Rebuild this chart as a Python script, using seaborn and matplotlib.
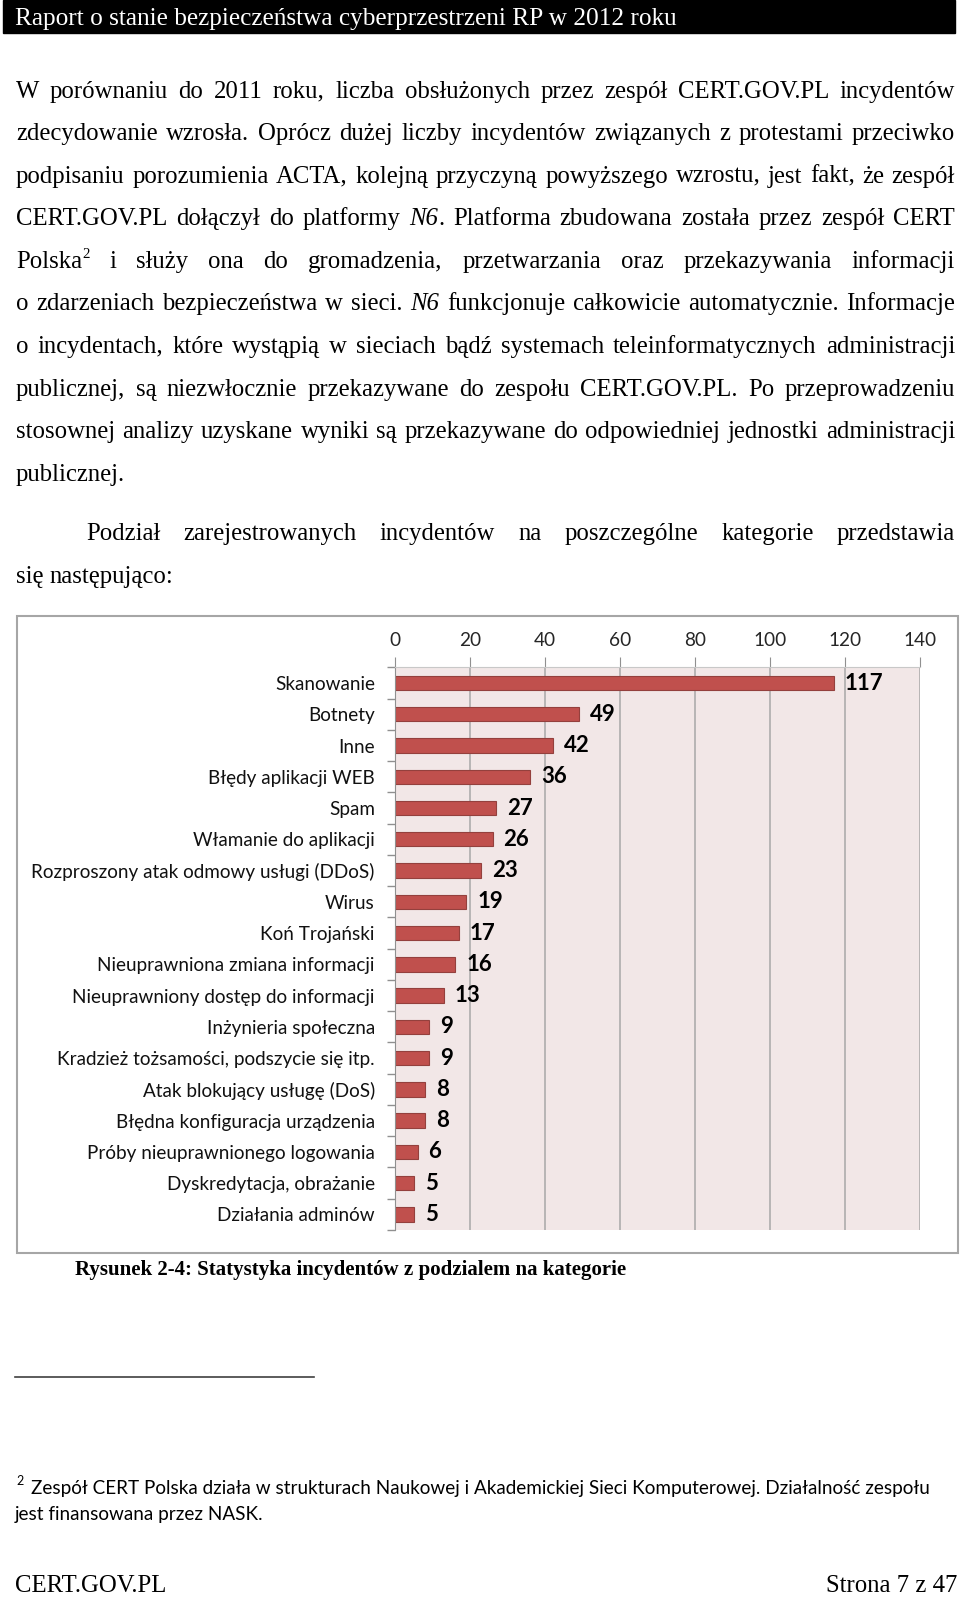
import re
import matplotlib
matplotlib.use("Agg")
import matplotlib.pyplot as plt
from matplotlib.patches import Rectangle
import numpy as np
import seaborn as sns

# chart data
categories = ["Skanowanie", "Botnety", "Inne", "Błędy aplikacji WEB", "Spam",
              "Włamanie do aplikacji", "Rozproszony atak odmowy usługi (DDoS)",
              "Wirus", "Koń Trojański", "Nieuprawniona zmiana informacji",
              "Nieuprawniony dostęp do informacji", "Inżynieria społeczna",
              "Kradzież tożsamości, podszycie się itp.", "Atak blokujący usługę (DoS)",
              "Błędna konfiguracja urządzenia", "Próby nieuprawnionego logowania",
              "Dyskredytacja, obrażanie", "Działania adminów"]
counts = [117, 49, 42, 36, 27, 26, 23, 19, 17, 16, 13, 9, 9, 8, 8, 6, 5, 5]
xticks = [0, 20, 40, 60, 80, 100, 120, 140]

header = "Raport o stanie bezpieczeństwa cyberprzestrzeni RP w 2012 roku"
para1 = [
    "W porównaniu do 2011 roku, liczba obsłużonych przez zespół CERT.GOV.PL incydentów",
    "zdecydowanie wzrosła. Oprócz dużej liczby incydentów związanych z protestami przeciwko",
    "podpisaniu porozumienia ACTA, kolejną przyczyną powyższego wzrostu, jest fakt, że zespół",
    "CERT.GOV.PL dołączył do platformy *N6*. Platforma zbudowana została przez zespół CERT",
    "Polska^2 i służy ona do gromadzenia, przetwarzania oraz przekazywania informacji",
    "o zdarzeniach bezpieczeństwa w sieci. *N6* funkcjonuje całkowicie automatycznie. Informacje",
    "o incydentach, które wystąpią w sieciach bądź systemach teleinformatycznych administracji",
    "publicznej, są niezwłocznie przekazywane do zespołu CERT.GOV.PL. Po przeprowadzeniu",
    "stosownej analizy uzyskane wyniki są przekazywane do odpowiedniej jednostki administracji",
    "publicznej.",
]
para2 = ["Podział zarejestrowanych incydentów na poszczególne kategorie przedstawia",
         "się następująco:"]
caption = "Rysunek 2-4: Statystyka incydentów z podzialem na kategorie"
footnote = ["Zespół CERT Polska działa w strukturach Naukowej i Akademickiej Sieci Komputerowej. Działalność zespołu",
            "jest finansowana przez NASK."]

SERIF = "Liberation Serif"
SANS = "Lato"
BODY = 17.8

fig = plt.figure(figsize=(9.6, 15.97), dpi=100)
page = fig.add_axes([0, 0, 1, 1])
page.set_xlim(0, 960)
page.set_ylim(1597, 0)
page.axis("off")
rend = fig.canvas.get_renderer()


def put_line(line, x0, x1, y, justify=True, size=BODY):
    words = []
    for w in line.split():
        arts = []
        off = 0
        for part in re.findall(r"\*[^*]+\*|\^\d+|[^*^]+", w):
            style, fs, dy = "normal", size, 0
            if part.startswith("*"):
                part, style = part[1:-1], "italic"
            elif part.startswith("^"):
                part, fs, dy = part[1:], size * 0.6, -10
            t = page.text(0, y + dy, part, fontsize=fs, fontstyle=style,
                          family=SERIF, va="baseline", ha="left", color="black")
            arts.append((t, off))
            off += t.get_window_extent(renderer=rend).width
        words.append((arts, off))
    total = sum(w for _, w in words)
    gap = size / 0.72 * 0.25
    if justify and len(words) > 1:
        gap = max((x1 - x0 - total) / (len(words) - 1), 2)
    x = x0
    for arts, w in words:
        for t, off in arts:
            t.set_x(x + off)
        x += w + gap


# header bar
page.add_patch(Rectangle((3, 0), 952, 33, color="black"))
page.text(15, 24.5, header, color="white", family=SERIF, fontsize=18.2, va="baseline")

for i, line in enumerate(para1):
    put_line(line, 16, 955, 97.7 + 42.55 * i, justify=(i < len(para1) - 1))
put_line(para2[0], 86, 955, 540)
put_line(para2[1], 16, 955, 582.7, justify=False)

# chart frame
page.add_patch(Rectangle((17, 616), 941, 637, facecolor="white", edgecolor="#A6A6A6", lw=1.5))

page.text(75, 1275, caption, family=SERIF, fontweight="bold", fontsize=15, va="baseline")
page.plot([15, 314], [1377, 1377], color="#404040", lw=1.2)
page.text(16, 1485, "2", family=SANS, fontsize=9, va="baseline")
page.text(31, 1494, footnote[0], family=SANS, fontsize=13.6, va="baseline")
page.text(15, 1520, footnote[1], family=SANS, fontsize=13.6, va="baseline")
page.text(15, 1592, "CERT.GOV.PL", family=SERIF, fontsize=BODY, va="baseline")
page.text(957, 1592, "Strona 7 z 47", family=SERIF, fontsize=BODY, va="baseline", ha="right")

# bar chart
ax = fig.add_axes([395 / 960, 1 - 1230 / 1597, 525 / 960, (1230 - 667.4) / 1597])
sns.barplot(x=counts, y=categories, orient="h", color="#C0504D", saturation=1,
            edgecolor="#94403D", linewidth=0.8, width=0.46, ax=ax)
ax.set_facecolor("#F2E7E7")
ax.set_xlim(0, 140)
ax.set_ylim(17.5, -0.5)
ax.xaxis.tick_top()
ax.set_xticks(xticks)
ax.set_xticklabels([str(v) for v in xticks], family=SANS)
ax.set_yticks(range(len(categories)))
ax.set_yticklabels(categories, family=SANS)
ax.set_yticks(np.arange(-0.5, len(categories)), minor=True)
ax.tick_params(axis="x", length=7, color="#909090", pad=6, labelsize=13.7, labelcolor="#262626")
ax.tick_params(axis="y", which="major", length=0, pad=14.5, labelsize=13.6, labelcolor="#111111")
ax.tick_params(axis="y", which="minor", length=6, color="#909090", width=1)
ax.grid(axis="x", color="#A8A8A8", lw=1.1)
ax.set_axisbelow(True)
for s in ["right", "bottom"]:
    ax.spines[s].set_visible(False)
ax.spines["left"].set_color("#909090")
ax.spines["top"].set_color("#C8C8C8")
ax.set_xlabel("")
ax.set_ylabel("")
ax.bar_label(ax.containers[0], padding=8, fontsize=16, fontweight="bold", family=SANS)

plt.savefig("out.png", dpi=100)
